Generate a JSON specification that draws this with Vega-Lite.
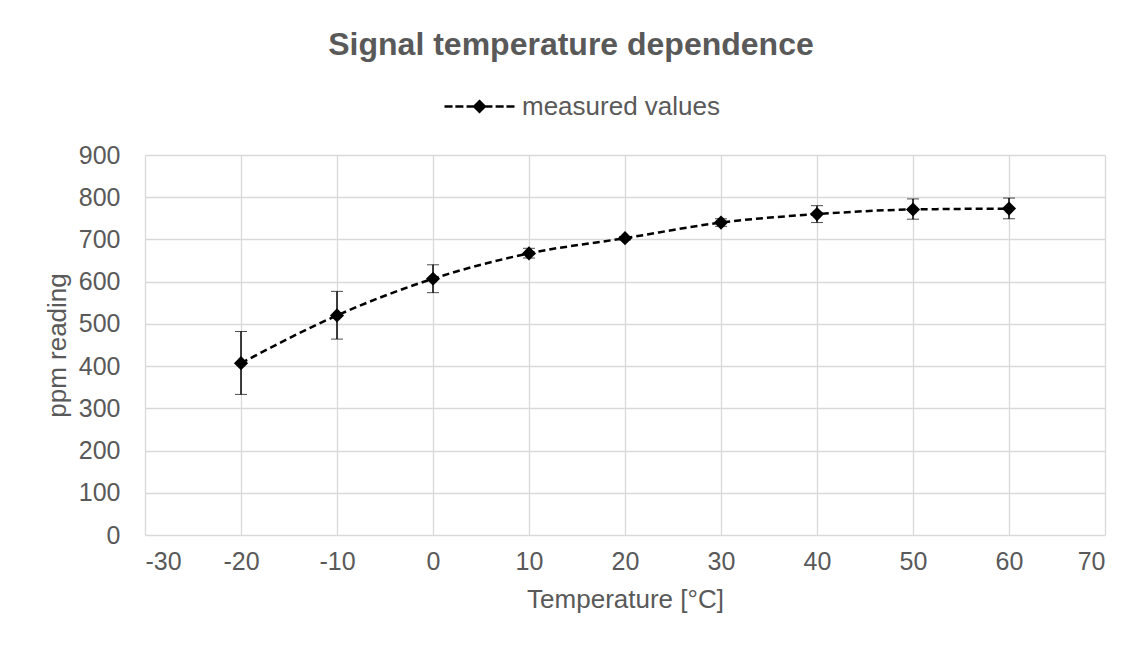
{
  "$schema": "https://vega.github.io/schema/vega-lite/v6.json",
  "width": 960,
  "height": 380,
  "autosize": {"type": "none"},
  "padding": {"left": 145, "top": 155, "right": 37, "bottom": 110},
  "background": "white",
  "title": {
    "text": "Signal temperature dependence",
    "fontSize": 32,
    "fontWeight": "bold",
    "color": "#595959",
    "font": "Liberation Sans",
    "anchor": "middle",
    "dx": -54,
    "offset": 8
  },
  "data": {
    "values": [
      {"temp": -20, "ppm": 407, "lo": 333, "hi": 482, "series": "measured values"},
      {"temp": -10, "ppm": 520, "lo": 464, "hi": 577, "series": "measured values"},
      {"temp": 0, "ppm": 607, "lo": 574, "hi": 640, "series": "measured values"},
      {"temp": 10, "ppm": 667, "lo": 656, "hi": 679, "series": "measured values"},
      {"temp": 20, "ppm": 703, "lo": 699, "hi": 707, "series": "measured values"},
      {"temp": 30, "ppm": 740, "lo": 731, "hi": 749, "series": "measured values"},
      {"temp": 40, "ppm": 760, "lo": 740, "hi": 780, "series": "measured values"},
      {"temp": 50, "ppm": 771, "lo": 748, "hi": 796, "series": "measured values"},
      {"temp": 60, "ppm": 773, "lo": 749, "hi": 798, "series": "measured values"}
    ]
  },
  "encoding": {
    "x": {
      "field": "temp",
      "type": "quantitative",
      "scale": {"domain": [-30, 70], "nice": false, "zero": false},
      "axis": {
        "values": [-30, -20, -10, 0, 10, 20, 30, 40, 50, 60, 70],
        "title": "Temperature [°C]",
        "labelExpr": "datum.value < 0 ? '-' + abs(datum.value) : '' + datum.value"
      }
    }
  },
  "layer": [
    {
      "mark": {"type": "errorbar", "ticks": {"size": 12, "color": "black", "strokeWidth": 1.5}, "rule": {"color": "black", "strokeWidth": 1.5}},
      "encoding": {
        "y": {"field": "lo", "type": "quantitative", "scale": {"domain": [0, 900], "nice": false}, "axis": {"values": [0, 100, 200, 300, 400, 500, 600, 700, 800, 900], "title": "ppm reading"}},
        "y2": {"field": "hi"}
      }
    },
    {
      "mark": {"type": "line", "interpolate": "monotone", "strokeDash": [7, 4], "strokeWidth": 2.5},
      "encoding": {
        "y": {"field": "ppm", "type": "quantitative"},
        "color": {
          "field": "series",
          "type": "nominal",
          "scale": {"range": ["black"]},
          "legend": {
            "title": null,
            "orient": "none",
            "legendX": 298,
            "legendY": -85,
            "symbolType": "M-1,0H-0.77M-0.69,0H-0.46M-0.37,0H-0.15M0,-0.15L0.15,0L0,0.15L-0.15,0ZM0.15,0H0.37M0.46,0H0.69M0.77,0H1",
            "symbolSize": 4900,
            "symbolFillColor": "black",
            "symbolStrokeColor": "black",
            "symbolStrokeWidth": 2.5,
            "symbolDash": [],
            "labelFontSize": 26,
            "labelLimit": 500,
            "labelColor": "#595959",
            "labelFont": "Liberation Sans",
            "labelOffset": 6
          }
        }
      }
    },
    {
      "mark": {"type": "point", "shape": "diamond", "filled": true, "size": 200, "color": "black", "opacity": 1},
      "encoding": {
        "y": {"field": "ppm", "type": "quantitative"}
      }
    }
  ],
  "config": {
    "font": "Liberation Sans",
    "view": {"stroke": null},
    "axis": {
      "grid": true,
      "gridColor": "#d9d9d9",
      "gridWidth": 1.3,
      "ticks": false,
      "domain": false,
      "labelFontSize": 25,
      "labelColor": "#595959",
      "labelFont": "Liberation Sans",
      "titleFontSize": 26,
      "titleFontWeight": "normal",
      "titleColor": "#595959",
      "titleFont": "Liberation Sans"
    },
    "axisX": {"labelPadding": 14, "titlePadding": 12},
    "axisY": {"labelPadding": 25, "titlePadding": 8},
    "legend": {"padding": 0}
  }
}
